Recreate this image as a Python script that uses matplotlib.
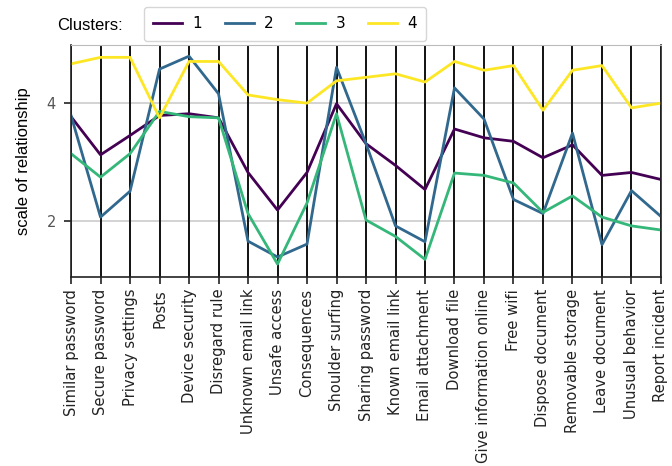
import matplotlib
matplotlib.use("Agg")
import matplotlib.pyplot as plt
import numpy as np

categories = [
    "Similar password", "Secure password", "Privacy settings", "Posts",
    "Device security", "Disregard rule", "Unknown email link", "Unsafe access",
    "Consequences", "Shoulder surfing", "Sharing password", "Known email link",
    "Email attachment", "Download file", "Give information online", "Free wifi",
    "Dispose document", "Removable storage", "Leave document", "Unusual behavior",
    "Report incident",
]

cluster_names = ["1", "2", "3", "4"]

cluster_1 = [3.77, 3.12, 3.45, 3.79, 3.82, 3.75, 2.82, 2.18, 2.82, 3.99,
             3.31, 2.94, 2.53, 3.56, 3.41, 3.35, 3.07, 3.29, 2.77, 2.82, 2.70]
cluster_2 = [3.79, 2.06, 2.50, 4.58, 4.80, 4.16, 1.65, 1.38, 1.60, 4.61,
             3.31, 1.91, 1.64, 4.26, 3.73, 2.36, 2.12, 3.49, 1.59, 2.51, 2.07]
cluster_3 = [3.14, 2.74, 3.14, 3.86, 3.77, 3.75, 2.12, 1.26, 2.30, 3.82,
             2.01, 1.73, 1.34, 2.81, 2.77, 2.64, 2.14, 2.42, 2.06, 1.91, 1.84]
cluster_4 = [4.67, 4.78, 4.78, 3.75, 4.71, 4.71, 4.14, 4.06, 4.00, 4.38,
             4.44, 4.50, 4.36, 4.71, 4.56, 4.64, 3.88, 4.56, 4.64, 3.92, 4.00]

series = [cluster_1, cluster_2, cluster_3, cluster_4]
colors = [plt.cm.viridis(v) for v in np.linspace(0, 1, len(series))]

fig = plt.figure(figsize=(6.72, 4.66), dpi=100)
ax = fig.add_axes([0.1057, 0.4056, 0.8779, 0.4978])

x = np.arange(len(categories))
for vals, name, col in zip(series, cluster_names, colors):
    ax.plot(x, vals, color=col, lw=2, label=name)

for xi in x:
    ax.axvline(xi, color="#111111", lw=1.4, zorder=1)

ax.set_xlim(0, len(categories) - 1)
ax.set_ylim(1.04, 4.99)
ax.set_xticks(x)
ax.set_xticklabels(categories, rotation=90, fontsize=10.6, color="#222222")
ax.set_yticks([2, 4])
ax.tick_params(axis="both", length=5, width=1.2, color="#222222")
ax.tick_params(axis="y", labelsize=10.5, labelcolor="#555555", pad=6)
ax.grid(axis="y", color="#cccccc", lw=1.2)
ax.set_axisbelow(True)
for side in ["left", "right", "bottom"]:
    ax.spines[side].set_color("#222222")
    ax.spines[side].set_linewidth(1.2)
ax.spines["top"].set_color("#bbbbbb")

ax.set_ylabel("scale of relationship", fontsize=12, family="Liberation Sans",
              labelpad=11)

fig.legend(loc="center", bbox_to_anchor=(285 / 672, 1 - 24 / 466), ncol=4,
           fontsize=11, frameon=True, edgecolor="#cccccc",
           handlelength=1.9, handletextpad=0.65, columnspacing=1.5,
           borderpad=0.6)
fig.text(90 / 672, 1 - 25 / 466, "Clusters:", fontsize=12,
         family="Liberation Sans", ha="center", va="center")

fig.savefig("out.png", dpi=100)
